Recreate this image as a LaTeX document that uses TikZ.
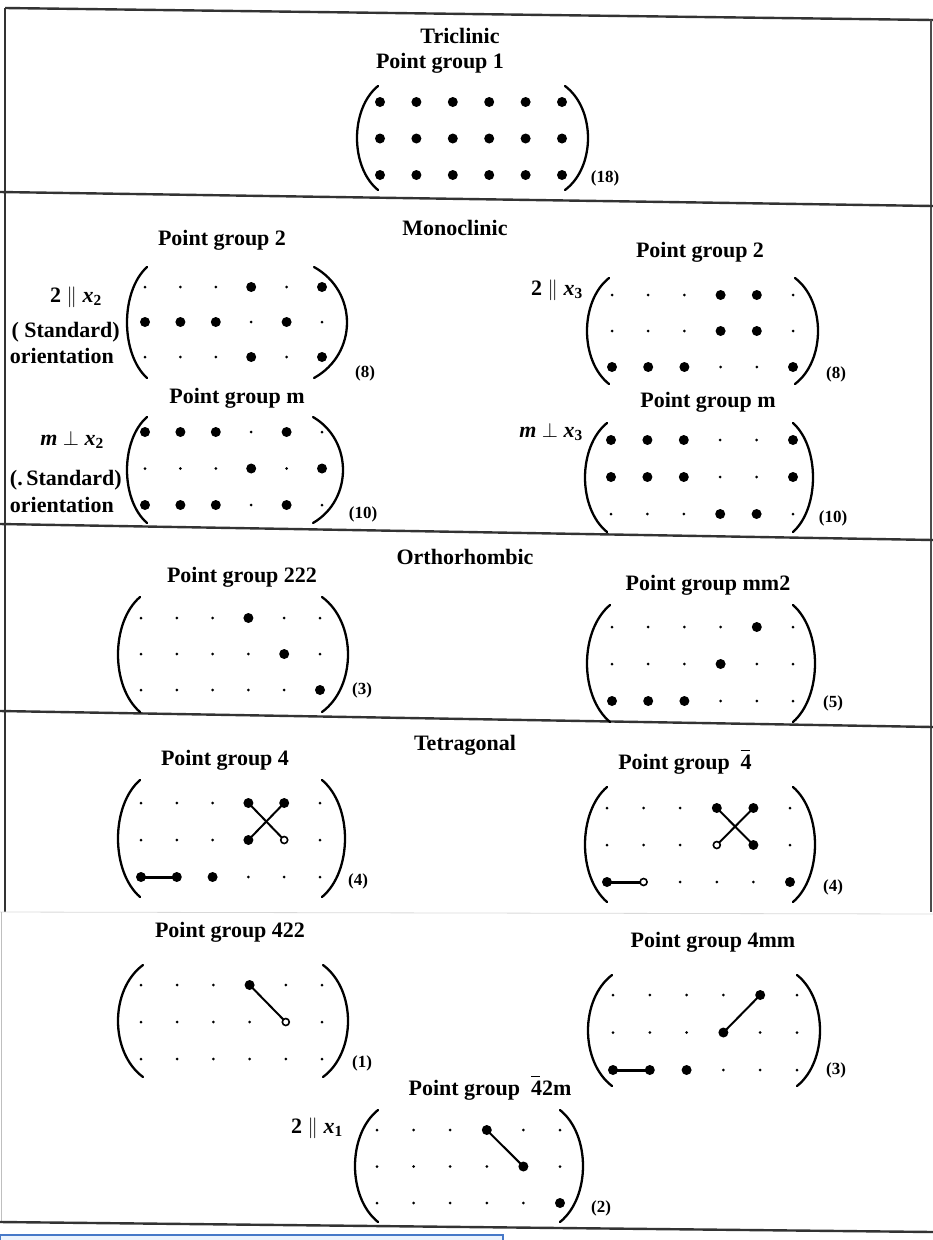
\documentclass[tikz,border=0pt]{standalone}
\usepackage{fontspec}
\setmainfont{Liberation Serif}
\tikzset{
  lbl/.style={font=\fontsize{22}{24}\selectfont\bfseries, inner sep=0pt},
  num/.style={font=\fontsize{17}{19}\selectfont\bfseries, inner sep=0pt},
  paren/.style={line width=2.3pt, line cap=round},
  rule/.style={line width=2.4pt, black!80},
  link/.style={line width=2pt},
  bar/.style={line width=3pt},
}
\newcommand\barfour{\makebox[0pt][l]{\raisebox{0.82em}{\rule{0.42em}{1.3pt}}}4}
% dot matrix: name, x of column 1, y of row 1, column step, row step
\newcommand\dotmat[5]{%
  \foreach \ri in {1,2,3}{\foreach \ci in {1,...,6}{%
    \coordinate (#1-\ri-\ci) at ({#2+(\ci-1)*#4},{#3+(\ri-1)*#5});
    \fill (#1-\ri-\ci) circle (1.5pt);}}}
\newcommand\bigdots[2]{\foreach \p in {#2}{\fill (#1-\p) circle (5pt);}}
\newcommand\opendot[1]{\draw[line width=1.6pt, fill=white] (#1) circle (3.5pt);}
% parentheses: x left, x right, y top, y bottom, depth left, depth right
\newcommand\parens[6]{%
  \draw[paren] (#1,#3) .. controls ({#1-1.333*#5},{#3+0.22*(#4-#3)}) and ({#1-1.333*#5},{#4-0.22*(#4-#3)}) .. (#1,#4);
  \draw[paren] (#2,#3) .. controls ({#2+1.333*#6},{#3+0.22*(#4-#3)}) and ({#2+1.333*#6},{#4-0.22*(#4-#3)}) .. (#2,#4);}
\begin{document}
\begin{tikzpicture}[x=1pt,y=-1pt]
\useasboundingbox (0,0) rectangle (933,1240);
% frame and separators
\draw[rule] (5,8) -- (933,20);
\draw[rule] (5,8) -- (5,912);
\draw[line width=1.6pt, black!70] (931,20) -- (931,912);
\draw[rule] (0,192) -- (933,206);
\draw[rule] (0,524) -- (933,540);
\draw[rule] (0,711) -- (933,727);
\draw[line width=0.8pt, black!15] (0,912) -- (933,914);
\draw[line width=0.8pt, black!25] (1,912) -- (1,1222);
\draw[rule] (0,1222) -- (933,1232);
\draw[draw={rgb,255:red,70;green,120;blue,200}, fill={rgb,255:red,235;green,243;blue,253}, line width=1.2pt] (0,1235) rectangle (503,1242);

% ---------- Triclinic
\node[lbl] (tri) at (460,36) {Triclinic};
\node[lbl] (tri1) at (440,63) {Point group 1};
\dotmat{T}{380}{102}{36.4}{36.5}
\foreach \ri in {1,2,3}{\foreach \ci in {1,...,6}{\fill (T-\ri-\ci) circle (5pt);}}
\parens{378}{565}{86}{190}{21}{23}
\node[num] (n18) at (605,178) {(18)};

% ---------- Monoclinic
\node[lbl] (mono) at (455,228) {Monoclinic};
% left 2
\node[lbl] (ml2) at (222,240) {Point group 2};
\node[lbl, anchor=east] (ml2a) at (102,297) {2 $\parallel$ \textit{x}\textsubscript{2}};
\node[lbl, anchor=east] (ml2b) at (120,332) {( Standard)};
\node[lbl, anchor=east] (ml2c) at (114,356) {orientation};
\dotmat{MA}{145}{287}{35.4}{35}
\bigdots{MA}{1-4,1-6,2-1,2-2,2-3,2-5,3-4,3-6}
\parens{147}{314}{267}{378}{20}{33}
\node[num] (n8a) at (365,373) {(8)};
% left m
\node[lbl] (mlm) at (237,398) {Point group m};
\node[lbl, anchor=east] (mlma) at (104,440) {\textit{m} $\perp$ \textit{x}\textsubscript{2}};
\node[lbl, anchor=east] (mlmb) at (122,480) {(.\,Standard)};
\node[lbl, anchor=east] (mlmc) at (114,505) {orientation};
\dotmat{MB}{145}{432}{35.4}{36.5}
\bigdots{MB}{1-1,1-2,1-3,1-5,2-4,2-6,3-1,3-2,3-3,3-5}
\parens{147}{313}{417}{523}{20}{30}
\node[num] (n10a) at (363,514) {(10)};
% right 2
\node[lbl] (mr2) at (700,252) {Point group 2};
\node[lbl, anchor=east] (mr2a) at (583,290) {2 $\parallel$ \textit{x}\textsubscript{3}};
\dotmat{MC}{612}{295}{36.2}{36}
\bigdots{MC}{1-4,1-5,2-4,2-5,3-1,3-2,3-3,3-6}
\parens{609}{795}{278}{384}{22}{23}
\node[num] (n8b) at (836,374) {(8)};
% right m
\node[lbl] (mrm) at (708,402) {Point group m};
\node[lbl, anchor=east] (mrma) at (583,432) {\textit{m} $\perp$ \textit{x}\textsubscript{3}};
\dotmat{MD}{611}{440}{36.4}{37}
\bigdots{MD}{1-1,1-2,1-3,1-6,2-1,2-2,2-3,2-6,3-4,3-5}
\parens{607}{793}{423}{532}{22}{20}
\node[num] (n10b) at (833,518) {(10)};

% ---------- Orthorhombic
\node[lbl] (ortho) at (465,557) {Orthorhombic};
\node[lbl] (o222) at (242,577) {Point group 222};
\dotmat{OA}{141}{618}{35.8}{36}
\bigdots{OA}{1-4,2-5,3-6}
\parens{140}{322}{597}{712}{22}{26}
\node[num] (n3a) at (362,690) {(3)};
\node[lbl] (omm2) at (708,585) {Point group mm2};
\dotmat{OB}{612}{627}{36.2}{37}
\bigdots{OB}{1-5,2-4,3-1,3-2,3-3}
\parens{610}{793}{605}{722}{23}{22}
\node[num] (n5) at (833,703) {(5)};

% ---------- Tetragonal
\node[lbl] (tetra) at (465,745) {Tetragonal};
% 4
\node[lbl] (t4) at (225,760) {Point group 4};
\dotmat{TA}{141}{803}{35.8}{37}
\draw[link] (TA-1-4) -- (TA-2-5);
\draw[link] (TA-1-5) -- (TA-2-4);
\draw[bar] (TA-3-1) -- (TA-3-2);
\bigdots{TA}{1-4,1-5,2-4,3-1,3-2,3-3}
\opendot{TA-2-5}
\parens{140}{322}{780}{897}{22}{23}
\node[num] (n4a) at (358,881) {(4)};
% -4
\node[lbl] (t4b) at (685,762) {Point group\enspace\barfour};
\dotmat{TB}{607}{808}{36.6}{37}
\draw[link] (TB-1-4) -- (TB-2-5);
\draw[link] (TB-1-5) -- (TB-2-4);
\draw[bar] (TB-3-1) -- (TB-3-2);
\bigdots{TB}{1-4,1-5,2-5,3-1,3-6}
\opendot{TB-2-4}
\opendot{TB-3-2}
\parens{607}{793}{787}{902}{22}{22}
\node[num] (n4b) at (833,887) {(4)};
% 422
\node[lbl] (t422) at (230,932) {Point group 422};
\dotmat{TC}{141}{985}{36.2}{37}
\draw[link] (TC-1-4) -- (TC-2-5);
\bigdots{TC}{1-4}
\opendot{TC-2-5}
\parens{143}{323}{965}{1077}{25}{25}
\node[num] (n1) at (362,1063) {(1)};
% 4mm
\node[lbl] (t4mm) at (713,942) {Point group 4mm};
\dotmat{TD}{613}{995}{36.8}{37.5}
\draw[link] (TD-1-5) -- (TD-2-4);
\draw[bar] (TD-3-1) -- (TD-3-2);
\bigdots{TD}{1-5,2-4,3-1,3-2,3-3}
\parens{612}{797}{975}{1086}{24}{23}
\node[num] (n3b) at (836,1070) {(3)};
% -42m
\node[lbl] (t42m) at (490,1088) {Point group\enspace\barfour 2m};
\node[lbl, anchor=east] (t42ma) at (343,1128) {2 $\parallel$ \textit{x}\textsubscript{1}};
\dotmat{TE}{377}{1130}{36.6}{36.5}
\draw[link] (TE-1-4) -- (TE-2-5);
\bigdots{TE}{1-4,2-5,3-6}
\parens{378}{560}{1110}{1222}{23}{23}
\node[num] (n2) at (601,1208) {(2)};
\end{tikzpicture}
\end{document}
